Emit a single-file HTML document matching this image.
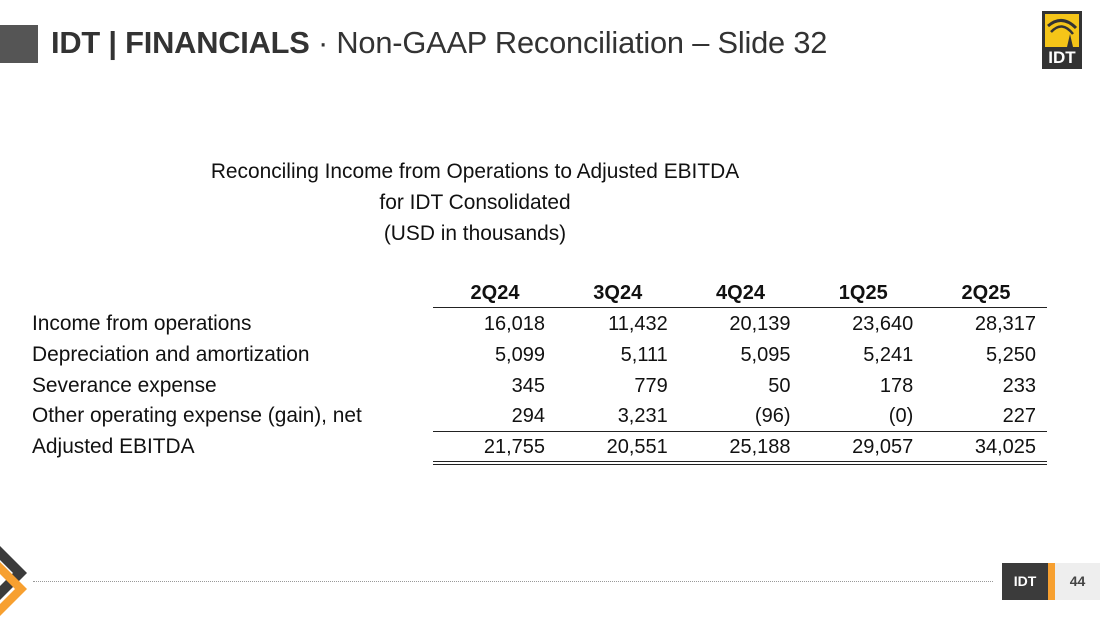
<!DOCTYPE html>
<html><head><meta charset="utf-8"><style>
body{margin:0;width:1100px;height:619px;overflow:hidden;background:#fff;position:relative;font-family:"Liberation Sans",sans-serif;color:#111}
.a{position:absolute;white-space:nowrap}
.num{text-align:right;width:110px;font-size:20px}
.lab{font-size:20.9px;left:32px}
.hd{font-weight:bold;font-size:20px;text-align:center;width:110px}
.ln{position:absolute;height:1px;background:#222;left:433px;width:614px}
</style></head><body>
<div class="a" style="left:0;top:25px;width:38px;height:38px;background:#555"></div>
<div class="a" style="left:51px;top:25px;font-size:30.8px;color:#333;letter-spacing:-0.2px"><b>IDT | FINANCIALS</b> · Non-GAAP Reconciliation – Slide 32</div>
<div class="a" style="left:1042px;top:11px;width:40px;height:58px;background:#333">
<div style="position:absolute;left:3px;top:3px;width:34px;height:33px;background:#f5c518"></div>
<svg style="position:absolute;left:3px;top:3px" width="34" height="33"><path d="M3 12 Q17 0 31 14" stroke="#333" stroke-width="3" fill="none"/><path d="M6 18 Q17 6 28 20" stroke="#333" stroke-width="2.5" fill="none"/><path d="M22 33 L25 20 L28 33Z" fill="#333"/></svg>
<div style="position:absolute;left:0;top:37px;width:40px;text-align:center;color:#fff;font-weight:bold;font-size:17px">IDT</div></div>
<div class="a" style="left:175px;top:156px;width:600px;text-align:center;font-size:20.9px;line-height:31px">Reconciling Income from Operations to Adjusted EBITDA<br>for IDT Consolidated<br>(USD in thousands)</div>
<div id="tbl"></div>
<div class="ln" style="top:307px"></div>
<div class="ln" style="top:431px"></div>
<div class="ln" style="top:461px"></div>
<div class="ln" style="top:464px"></div>
<svg class="a" style="left:0;top:540px" width="40" height="79"><path d="M-12 -2 L27 37 L-12 76 L-12 62 L13 37 L-12 12Z" fill="#3b3b3b" transform="translate(0,-4)"/><path d="M-10 18 L27 55 L-10 92 L-10 80 L15 55 L-10 30Z" fill="#f7a030" transform="translate(0,-6)"/></svg>
<div class="a" style="left:33px;top:581px;width:960px;border-top:1px dotted #999"></div>
<div class="a" style="left:1002px;top:563px;width:46px;height:37px;background:#3b3b3b;color:#fff;font-weight:bold;font-size:14px;text-align:center;line-height:37px">IDT</div>
<div class="a" style="left:1048px;top:563px;width:7px;height:37px;background:#f7a030"></div>
<div class="a" style="left:1055px;top:563px;width:45px;height:37px;background:#eee;color:#444;font-size:14px;font-weight:bold;text-align:center;line-height:37px">44</div>
<script>
const periods=["2Q24","3Q24","4Q24","1Q25","2Q25"];
const rows=["Income from operations","Depreciation and amortization","Severance expense","Other operating expense (gain), net","Adjusted EBITDA"];
const income=["16,018","11,432","20,139","23,640","28,317"];
const depr=["5,099","5,111","5,095","5,241","5,250"];
const sev=["345","779","50","178","233"];
const other=["294","3,231","(96)","(0)","227"];
const ebitda=["21,755","20,551","25,188","29,057","34,025"];
const vals=[income,depr,sev,other,ebitda];
const t=document.getElementById('tbl');
function colRight(i){return 545+i*122.75;}
function rowY(r){return 313+r*30.8;}
periods.forEach((p,i)=>{const d=document.createElement('div');d.className='a hd';


d.style.left=(colRight(i)-105)+'px';d.style.top='282px';d.textContent=p;t.appendChild(d);});
rows.forEach((r,ri)=>{const d=document.createElement('div');d.className='a lab';


d.style.top=(rowY(ri)-1)+'px';d.textContent=r;t.appendChild(d);
vals[ri].forEach((v,ci)=>{const c=document.createElement('div');c.className='a num';


c.style.left=(colRight(ci)-110)+'px';c.style.top=rowY(ri)+'px';c.textContent=v;t.appendChild(c);});});
</script>
</body></html>
